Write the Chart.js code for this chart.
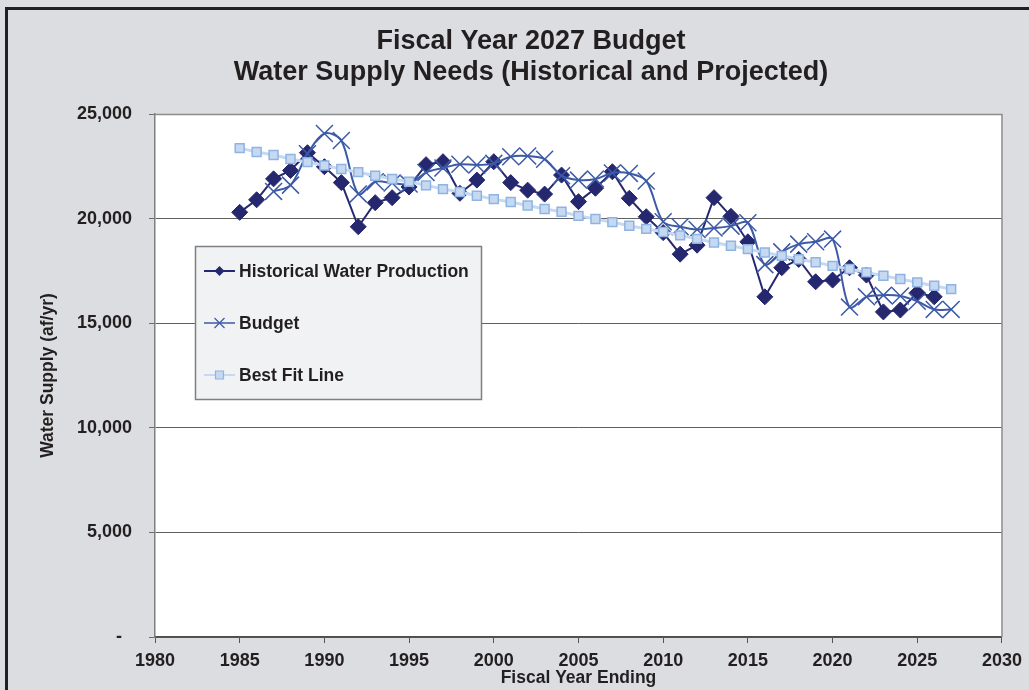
<!DOCTYPE html>
<html>
<head>
<meta charset="utf-8">
<script src="https://cdn.jsdelivr.net/npm/chart.js@4.4.1/dist/chart.umd.min.js"></script>
<style>
  html, body { margin: 0; padding: 0; background: #dcdde0; overflow: hidden; }
  #wrap { width: 1029px; height: 690px; }
</style>
</head>
<body>
<div id="wrap"><canvas id="chart" width="1029" height="690"></canvas></div>
<script>
// fiscal years (x categories)
const years = [1985, 1986, 1987, 1988, 1989, 1990, 1991, 1992, 1993, 1994,
  1995, 1996, 1997, 1998, 1999, 2000, 2001, 2002, 2003, 2004,
  2005, 2006, 2007, 2008, 2009, 2010, 2011, 2012, 2013, 2014,
  2015, 2016, 2017, 2018, 2019, 2020, 2021, 2022, 2023, 2024,
  2025, 2026, 2027];

// af/yr
const historical = [20300, 20900, 21900, 22300, 23150, 22480, 21720, 19610, 20760, 21000,
  21510, 22580, 22720, 21210, 21840, 22720, 21720, 21360, 21170, 22080,
  20810, 21450, 22240, 20970, 20090, 19330, 18300, 18730, 21000, 20110,
  18890, 16260, 17650, 18050, 16980, 17060, 17650, 17300, 15540, 15630,
  16450, 16260, null];

const budget = [null, null, 21300, 21600, 23100, 24070, 23730, 21180, 21760, 21700,
  21650, 22200, 22420, 22600, 22560, 22640, 22960, 22990, 22840, 22050,
  21840, 21890, 22180, 22160, 21800, 19850, 19610, 19480, 19550, 19640,
  19800, 17800, 18410, 18780, 18890, 19020, 15770, 16260, 16340, 16300,
  16050, 15660, 15660];

const bestFit = [23370, 23180, 23040, 22850, 22700, 22540, 22370, 22220, 22050, 21890,
  21760, 21590, 21410, 21270, 21090, 20930, 20790, 20630, 20460, 20330,
  20130, 19980, 19830, 19660, 19510, 19360, 19200, 19030, 18860, 18700,
  18540, 18380, 18220, 18060, 17910, 17740, 17590, 17430, 17270, 17110,
  16950, 16790, 16630];

const titleLines = ['Fiscal Year 2027 Budget', 'Water Supply Needs (Historical and Projected)'];
const xTicks = [1980, 1985, 1990, 1995, 2000, 2005, 2010, 2015, 2020, 2025, 2030];
const yTicks = [0, 5000, 10000, 15000, 20000, 25000];

const FONT = "'Liberation Sans', Arial, Helvetica, sans-serif";
const INK = '#231f20';
const NAVY = '#25286f';
const BLUE = '#3c5aa6';
const PALE = '#c6d9f1';
const PALE_EDGE = '#8eb4e3';

function pairs(vals) {
  const out = [];
  vals.forEach((v, i) => { if (v !== null) out.push({ x: years[i], y: v }); });
  return out;
}

// small marker shapes for the legend
function marker(ctx, style, x, y) {
  ctx.beginPath();
  if (style === 'diamond') {
    ctx.moveTo(x - 5, y); ctx.lineTo(x, y - 5); ctx.lineTo(x + 5, y); ctx.lineTo(x, y + 5);
    ctx.closePath(); ctx.fill();
  } else if (style === 'x') {
    ctx.moveTo(x - 5, y - 5); ctx.lineTo(x + 5, y + 5);
    ctx.moveTo(x + 5, y - 5); ctx.lineTo(x - 5, y + 5);
    ctx.stroke();
  } else {
    ctx.rect(x - 4, y - 4, 8, 8); ctx.fill(); ctx.stroke();
  }
}

const legendRows = [
  { label: 'Historical Water Production', color: NAVY, fill: NAVY, width: 2, style: 'diamond' },
  { label: 'Budget', color: BLUE, fill: BLUE, width: 1.5, style: 'x' },
  { label: 'Best Fit Line', color: PALE, fill: PALE, edge: PALE_EDGE, width: 2, style: 'square' }
];

const frame = {
  id: 'frame',
  beforeDraw(chart) {
    const { ctx, width, height, chartArea: a } = chart;
    ctx.save();
    ctx.fillStyle = '#dcdde0';
    ctx.fillRect(0, 0, width, height);
    ctx.fillStyle = '#ffffff';
    ctx.fillRect(a.left, a.top, a.right - a.left, a.bottom - a.top);
    ctx.strokeStyle = INK;
    ctx.lineWidth = 3;
    ctx.strokeRect(6.5, 8.5, width + 40, height + 40);
    ctx.fillStyle = INK;
    ctx.font = 'bold 27px ' + FONT;
    ctx.textAlign = 'center';
    ctx.textBaseline = 'middle';
    titleLines.forEach((t, i) => ctx.fillText(t, 531, 42 + i * 31));
    ctx.restore();
  },
  afterDatasetsDraw(chart) {
    const { ctx, chartArea: a } = chart;
    ctx.save();
    ctx.strokeStyle = '#8c8c8c';
    ctx.lineWidth = 1.5;
    ctx.beginPath();
    ctx.moveTo(a.left, a.top + 0.5); ctx.lineTo(a.right, a.top + 0.5); ctx.lineTo(a.right, a.bottom);
    ctx.stroke();

    // legend box
    ctx.fillStyle = '#f1f2f4';
    ctx.fillRect(195, 246, 286, 153);
    ctx.strokeStyle = '#7f7f7f';
    ctx.lineWidth = 1.5;
    ctx.strokeRect(195.5, 246.5, 286, 153);
    ctx.font = 'bold 17.5px ' + FONT;
    ctx.textAlign = 'left';
    ctx.textBaseline = 'middle';
    legendRows.forEach((r, i) => {
      const y = 271 + i * 52;
      ctx.strokeStyle = r.color;
      ctx.lineWidth = r.width;
      ctx.beginPath(); ctx.moveTo(204, y); ctx.lineTo(235, y); ctx.stroke();
      ctx.fillStyle = r.fill;
      ctx.strokeStyle = r.edge || r.color;
      ctx.lineWidth = 1.2;
      marker(ctx, r.style, 219.5, y);
      ctx.fillStyle = INK;
      ctx.fillText(r.label, 239, y + 1);
    });
    ctx.restore();
  }
};

new Chart(document.getElementById('chart'), {
  type: 'line',
  data: {
    datasets: [
      {
        label: 'Best Fit Line',
        data: pairs(bestFit),
        borderColor: PALE,
        borderWidth: 3,
        pointStyle: 'rect',
        pointRadius: 6.3,
        pointBackgroundColor: PALE,
        pointBorderColor: PALE_EDGE,
        pointBorderWidth: 1.5,
        tension: 0,
        order: 1
      },
      {
        label: 'Budget',
        data: pairs(budget),
        borderColor: BLUE,
        borderWidth: 2,
        pointStyle: 'crossRot',
        pointRadius: 12,
        pointBorderColor: BLUE,
        pointBorderWidth: 1.5,
        tension: 0.33,
        order: 2
      },
      {
        label: 'Historical Water Production',
        data: pairs(historical),
        borderColor: NAVY,
        borderWidth: 2,
        pointStyle: 'rectRot',
        pointRadius: 8,
        pointBackgroundColor: NAVY,
        pointBorderColor: NAVY,
        pointBorderWidth: 1,
        tension: 0,
        order: 3
      }
    ]
  },
  options: {
    responsive: false,
    animation: false,
    devicePixelRatio: 1,
    layout: { padding: { left: 0, top: 114, right: 24, bottom: 0 } },
    plugins: {
      legend: { display: false },
      title: { display: false },
      tooltip: { enabled: false }
    },
    scales: {
      x: {
        type: 'linear',
        min: 1980,
        max: 2030,
        afterBuildTicks: (s) => { s.ticks = xTicks.map(v => ({ value: v })); },
        afterFit: (s) => { s.height = 53; },
        ticks: {
          callback: (v) => String(v),
          color: INK,
          font: { family: FONT, size: 18, weight: 'bold' },
          padding: 7,
          maxRotation: 0
        },
        grid: { drawOnChartArea: false, drawTicks: true, tickLength: 6, color: '#555555' },
        border: { display: true, color: '#4d4d4d', width: 1.5 },
        title: {
          display: true,
          text: 'Fiscal Year Ending',
          color: INK,
          font: { family: FONT, size: 17.5, weight: 'bold' },
          padding: { top: 0, bottom: 1.5 }
        }
      },
      y: {
        min: 0,
        max: 25000,
        afterBuildTicks: (s) => { s.ticks = yTicks.map(v => ({ value: v })); },
        afterFit: (s) => { s.width = 155; },
        ticks: {
          callback: (v) => v === 0 ? '-  ' : v.toLocaleString('en-US'),
          color: INK,
          font: { family: FONT, size: 18, weight: 'bold' },
          padding: 17
        },
        grid: {
          color: (c) => c.tick && c.tick.value === 25000 ? '#8c8c8c' : '#5f5f5f',
          lineWidth: 1,
          drawTicks: true,
          tickLength: 6,
          tickColor: '#6d6d6d'
        },
        border: { display: true, color: '#7f7f7f', width: 1.5 },
        title: {
          display: true,
          text: 'Water Supply (af/yr)',
          color: INK,
          font: { family: FONT, size: 17.5, weight: 'bold' },
          padding: { top: 37.5, bottom: 0 }
        }
      }
    }
  },
  plugins: [frame]
});
</script>
</body>
</html>
